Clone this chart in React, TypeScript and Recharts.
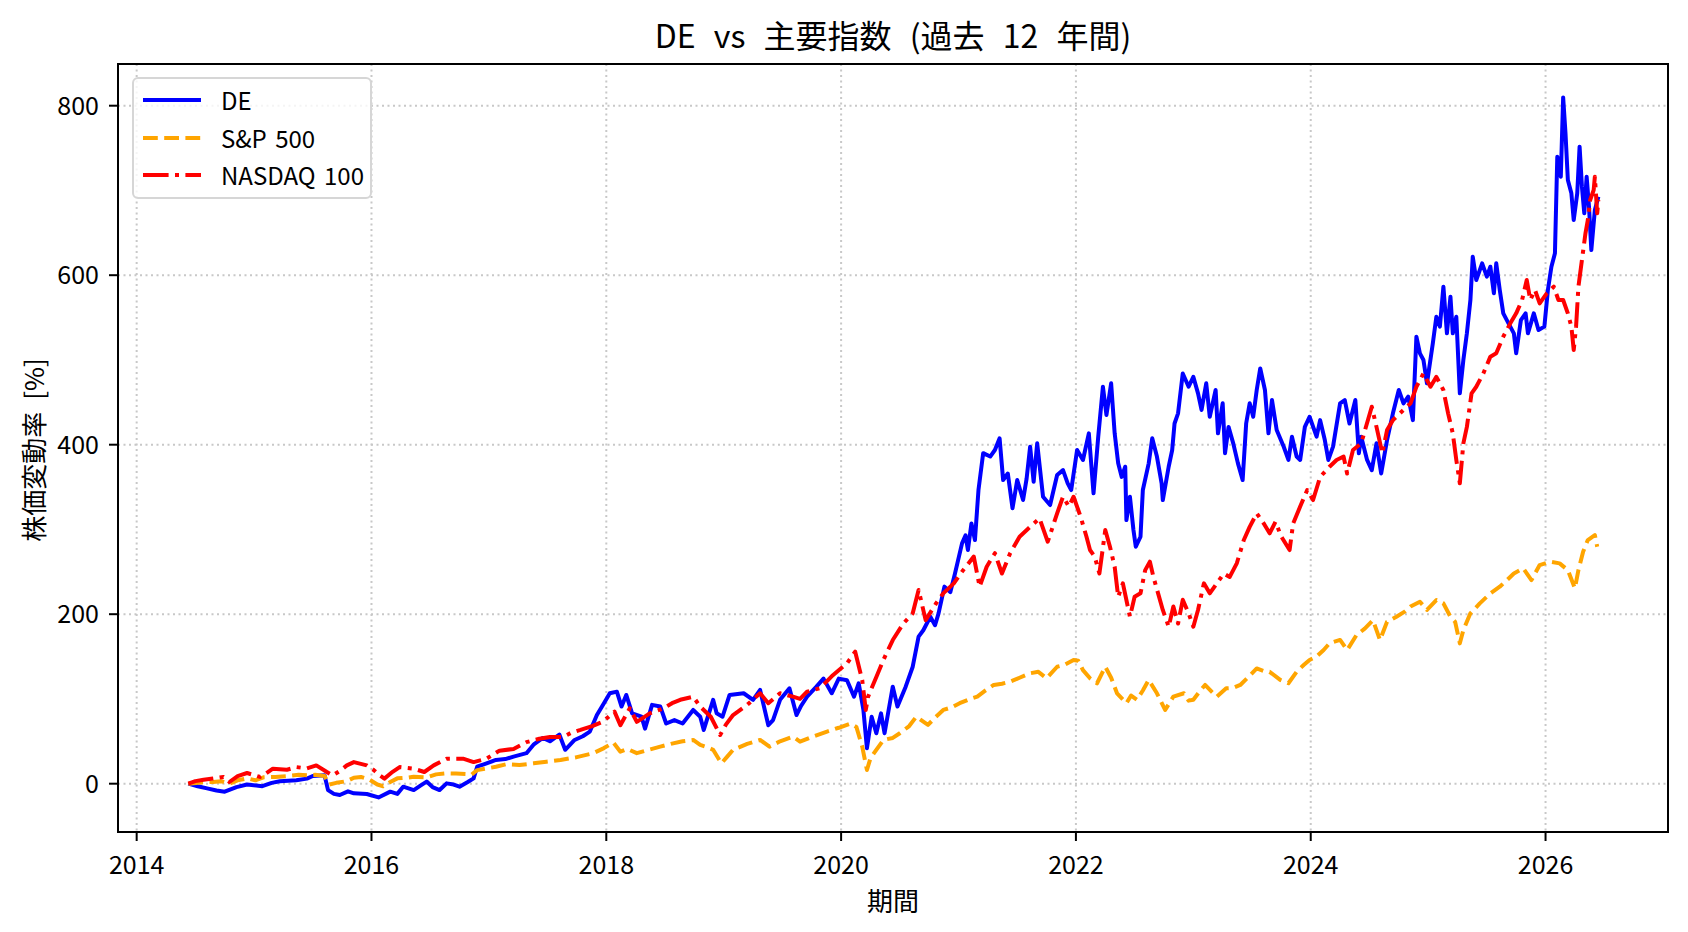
import React from 'react';
import { LineChart, Line, XAxis, YAxis, CartesianGrid } from 'recharts';

// [decimal year, % change]
const DE_POINTS: [number, number][] = [
  [2014.44, 0], [2014.52, -3], [2014.6, -5.5], [2014.68, -8], [2014.75, -9.4], [2014.85, -4], [2014.94, -1],
  [2015.07, -3], [2015.15, 1], [2015.22, 2.9], [2015.36, 4], [2015.45, 6], [2015.5, 9.1], [2015.6, 10],
  [2015.63, -7.6], [2015.68, -12], [2015.73, -13.4], [2015.8, -9], [2015.85, -11.4], [2015.96, -12.2],
  [2016.06, -16.2], [2016.16, -9.4], [2016.22, -12], [2016.27, -3.5], [2016.36, -7.5], [2016.42, -2],
  [2016.47, 2.5], [2016.52, -4], [2016.58, -7.5], [2016.64, 0.4], [2016.7, -1], [2016.75, -3.5],
  [2016.82, 2], [2016.87, 6.3], [2016.9, 20], [2016.98, 24], [2017.06, 28], [2017.14, 29], [2017.21, 32],
  [2017.32, 36], [2017.38, 46], [2017.46, 54], [2017.52, 50], [2017.6, 58], [2017.65, 40], [2017.73, 51.6],
  [2017.8, 56], [2017.86, 61.5], [2017.92, 81], [2017.98, 95], [2018.03, 106.7], [2018.09, 108.6],
  [2018.13, 91], [2018.17, 104.7], [2018.22, 83], [2018.3, 79], [2018.33, 65], [2018.39, 93], [2018.46, 91],
  [2018.51, 71], [2018.58, 75], [2018.65, 71], [2018.74, 87], [2018.8, 79], [2018.83, 63.4], [2018.91, 99],
  [2018.94, 83], [2018.99, 79], [2019.05, 104.7], [2019.17, 106.7], [2019.25, 99], [2019.31, 110.6],
  [2019.38, 69], [2019.42, 75], [2019.48, 99], [2019.56, 112.6], [2019.62, 81], [2019.66, 92],
  [2019.71, 102.7], [2019.79, 114.5], [2019.85, 124], [2019.92, 106.7], [2019.98, 124], [2020.05, 122],
  [2020.11, 102.7], [2020.15, 118.5], [2020.19, 87], [2020.22, 41.8], [2020.26, 79], [2020.3, 59.5],
  [2020.34, 83], [2020.37, 59.5], [2020.44, 114.5], [2020.48, 91], [2020.55, 114.5], [2020.61, 138],
  [2020.66, 173.5], [2020.7, 181], [2020.76, 197], [2020.8, 187], [2020.83, 201], [2020.88, 232.5],
  [2020.93, 226], [2020.97, 248], [2021.03, 283.6], [2021.06, 293], [2021.08, 275.7], [2021.11, 307],
  [2021.14, 287.5], [2021.17, 346.5], [2021.21, 390], [2021.27, 386], [2021.31, 393.7], [2021.35, 407.5],
  [2021.38, 358.3], [2021.42, 366], [2021.46, 325], [2021.5, 358.3], [2021.55, 334.7], [2021.58, 360],
  [2021.61, 397.6], [2021.64, 356.3], [2021.67, 401.6], [2021.72, 338.6], [2021.78, 328.8], [2021.84, 364.2],
  [2021.89, 370], [2021.93, 354.4], [2021.96, 346.5], [2022.01, 393.7], [2022.06, 382], [2022.11, 413.4],
  [2022.15, 342.6], [2022.19, 409.4], [2022.23, 468.4], [2022.26, 435], [2022.3, 472.4], [2022.33, 413.4],
  [2022.36, 378], [2022.39, 362], [2022.42, 374], [2022.43, 311], [2022.46, 338.6], [2022.49, 299.3],
  [2022.51, 279.6], [2022.55, 291.4], [2022.57, 346.5], [2022.62, 378], [2022.65, 407.5], [2022.69, 386],
  [2022.73, 354.4], [2022.74, 334.7], [2022.79, 374], [2022.82, 393.7], [2022.84, 425], [2022.87, 437],
  [2022.91, 484], [2022.96, 468.4], [2023.0, 480.2], [2023.04, 460.6], [2023.07, 441], [2023.11, 472.4],
  [2023.14, 433], [2023.19, 464.5], [2023.21, 413.4], [2023.25, 448.8], [2023.27, 390], [2023.3, 421],
  [2023.34, 401.6], [2023.38, 378], [2023.42, 358.3], [2023.45, 425], [2023.48, 448.8], [2023.51, 433],
  [2023.54, 464.5], [2023.57, 490], [2023.61, 464.5], [2023.64, 413.4], [2023.67, 452.7], [2023.71, 417.3],
  [2023.77, 397.6], [2023.81, 382], [2023.84, 409.4], [2023.88, 386], [2023.91, 382], [2023.95, 421],
  [2023.99, 433], [2024.05, 409.5], [2024.08, 429], [2024.12, 405.5], [2024.15, 382], [2024.19, 397.7],
  [2024.25, 448.8], [2024.29, 452.7], [2024.33, 425], [2024.38, 452.7], [2024.41, 389.8], [2024.43, 409.5],
  [2024.48, 382], [2024.52, 370], [2024.56, 401.6], [2024.6, 366], [2024.65, 405.5], [2024.7, 437],
  [2024.75, 464.5], [2024.79, 448.8], [2024.83, 456.7], [2024.87, 429], [2024.9, 527.5], [2024.93, 507.8],
  [2024.96, 500], [2024.99, 472.4], [2025.04, 519.6], [2025.07, 551], [2025.1, 539.3], [2025.13, 586.4],
  [2025.16, 531.4], [2025.19, 574.6], [2025.21, 531.4], [2025.24, 551], [2025.27, 460.6], [2025.3, 500],
  [2025.33, 531.4], [2025.36, 570.7], [2025.38, 621.8], [2025.41, 594.3], [2025.46, 614], [2025.5, 598.3],
  [2025.53, 610], [2025.56, 578.6], [2025.58, 614], [2025.61, 582.5], [2025.64, 555], [2025.67, 547],
  [2025.73, 531.4], [2025.75, 507.8], [2025.79, 547], [2025.83, 555], [2025.85, 531.4], [2025.9, 555],
  [2025.94, 535.3], [2025.99, 539.3], [2026.02, 582.5], [2026.05, 610], [2026.08, 625.8], [2026.1, 739.8],
  [2026.13, 716.2], [2026.15, 809.8], [2026.17, 767.4], [2026.19, 712.3], [2026.22, 696.6], [2026.24, 665],
  [2026.27, 696.6], [2026.29, 751.6], [2026.31, 704.4], [2026.33, 673], [2026.35, 716.2], [2026.37, 680.8],
  [2026.39, 629.7], [2026.42, 676.9], [2026.45, 692.6],
];

const SP500_POINTS: [number, number][] = [
  [2014.44, 0], [2014.55, 1.5], [2014.65, 2], [2014.72, 3], [2014.79, 0], [2014.86, 4], [2014.94, 6.3],
  [2015.01, 4], [2015.08, 7.5], [2015.18, 8], [2015.28, 9], [2015.38, 10.5], [2015.45, 10], [2015.52, 10.5],
  [2015.6, 9], [2015.64, -1], [2015.7, 1], [2015.79, 3], [2015.85, 7], [2015.91, 8], [2015.98, 5],
  [2016.05, -1], [2016.1, -3], [2016.16, 2], [2016.22, 6.3], [2016.3, 7], [2016.36, 8.3], [2016.47, 7.5],
  [2016.55, 11], [2016.64, 12.2], [2016.72, 12], [2016.81, 11.4], [2016.85, 10.5], [2016.9, 16],
  [2016.98, 18], [2017.06, 20], [2017.15, 23], [2017.26, 22], [2017.38, 24], [2017.49, 26], [2017.61, 28],
  [2017.74, 31], [2017.89, 36], [2017.98, 42], [2018.06, 48.5], [2018.12, 37.8], [2018.18, 41],
  [2018.26, 36], [2018.36, 40], [2018.46, 43.7], [2018.55, 47], [2018.65, 50], [2018.74, 51.6],
  [2018.8, 45.7], [2018.86, 43], [2018.91, 40], [2018.98, 24], [2019.03, 32], [2019.08, 40], [2019.2, 47],
  [2019.31, 51.6], [2019.39, 43.7], [2019.48, 50], [2019.59, 55.5], [2019.65, 49.6], [2019.75, 55],
  [2019.88, 61.5], [2019.98, 66], [2020.08, 71], [2020.13, 67], [2020.18, 43.7], [2020.22, 16.2],
  [2020.25, 30], [2020.28, 36], [2020.36, 51.6], [2020.44, 54], [2020.5, 59.5], [2020.58, 68],
  [2020.64, 79], [2020.74, 69.3], [2020.8, 78], [2020.87, 87], [2020.94, 90], [2021.01, 95], [2021.1, 100],
  [2021.16, 102.7], [2021.23, 110], [2021.3, 116.5], [2021.37, 118], [2021.44, 120.4], [2021.52, 125],
  [2021.61, 130.3], [2021.68, 132], [2021.75, 124.4], [2021.84, 138], [2021.9, 140], [2021.98, 146],
  [2022.02, 145], [2022.06, 134], [2022.12, 124.4], [2022.18, 118.5], [2022.25, 138], [2022.3, 125],
  [2022.35, 106.7], [2022.43, 95], [2022.47, 104], [2022.52, 99], [2022.57, 110], [2022.62, 122.4],
  [2022.69, 106.7], [2022.76, 87], [2022.8, 96], [2022.83, 102.7], [2022.92, 106.7], [2022.96, 98],
  [2023.0, 99], [2023.06, 110], [2023.1, 116.5], [2023.16, 108], [2023.2, 102.7], [2023.28, 112.6],
  [2023.34, 113], [2023.4, 116.5], [2023.47, 126], [2023.54, 136], [2023.6, 133], [2023.65, 132],
  [2023.74, 122.4], [2023.81, 118.5], [2023.88, 132], [2023.94, 140], [2023.99, 146], [2024.05, 150],
  [2024.11, 157.8], [2024.16, 165.6], [2024.25, 169.6], [2024.31, 157.7], [2024.39, 175.4], [2024.46, 183],
  [2024.53, 193], [2024.59, 169.5], [2024.65, 191], [2024.73, 197], [2024.8, 203], [2024.85, 209],
  [2024.93, 214.7], [2024.99, 205], [2025.07, 216.7], [2025.13, 212.8], [2025.19, 197], [2025.23, 191],
  [2025.27, 165.6], [2025.3, 181.3], [2025.36, 201], [2025.44, 212.8], [2025.53, 224.6], [2025.61, 232.4],
  [2025.67, 240], [2025.73, 248], [2025.81, 254], [2025.88, 240.3], [2025.95, 258], [2026.04, 262],
  [2026.12, 260], [2026.19, 252], [2026.25, 230.5], [2026.28, 252], [2026.32, 273.7], [2026.36, 287.5],
  [2026.42, 293.4], [2026.44, 279.6],
];

const NASDAQ_POINTS: [number, number][] = [
  [2014.44, 0], [2014.5, 3], [2014.57, 4.7], [2014.65, 6], [2014.74, 8], [2014.79, 2], [2014.86, 9],
  [2014.94, 12.6], [2015.05, 8], [2015.1, 12], [2015.16, 17.7], [2015.28, 16.5], [2015.36, 19.6],
  [2015.45, 18], [2015.53, 21.6], [2015.62, 13.8], [2015.67, 9.8], [2015.73, 15], [2015.79, 21.6],
  [2015.85, 25.5], [2015.96, 21.6], [2016.02, 16], [2016.07, 9.8], [2016.11, 6], [2016.18, 14],
  [2016.24, 19.6], [2016.36, 17.7], [2016.45, 13.8], [2016.53, 21.6], [2016.64, 29.5], [2016.78, 29.5],
  [2016.87, 25.5], [2016.98, 29.5], [2017.09, 39], [2017.21, 41], [2017.32, 49], [2017.43, 53],
  [2017.52, 55], [2017.63, 55], [2017.7, 60], [2017.78, 63.4], [2017.88, 68], [2017.97, 73], [2018.07, 85],
  [2018.12, 69], [2018.2, 89], [2018.26, 73], [2018.37, 83], [2018.49, 89], [2018.56, 95], [2018.63, 99],
  [2018.74, 102.7], [2018.8, 91], [2018.89, 79], [2018.97, 57.5], [2019.02, 70], [2019.08, 81],
  [2019.2, 93], [2019.31, 106.7], [2019.38, 95], [2019.48, 106.7], [2019.59, 102.7], [2019.65, 100],
  [2019.71, 108.6], [2019.82, 112.6], [2019.93, 128], [2020.05, 142], [2020.12, 155.8], [2020.18, 122],
  [2020.21, 87], [2020.23, 102.7], [2020.3, 126], [2020.36, 146], [2020.44, 169.5], [2020.53, 189],
  [2020.61, 201], [2020.66, 228.6], [2020.72, 193], [2020.81, 213], [2020.87, 224.6], [2020.96, 236.4],
  [2021.04, 252], [2021.13, 268], [2021.18, 232.5], [2021.24, 256], [2021.31, 272], [2021.37, 248],
  [2021.44, 272], [2021.52, 291.4], [2021.61, 303], [2021.69, 313], [2021.76, 285.5], [2021.84, 319],
  [2021.89, 338.6], [2021.94, 327], [2021.98, 338.6], [2022.04, 315], [2022.09, 291.4], [2022.12, 275.7],
  [2022.16, 268], [2022.2, 248], [2022.25, 299.3], [2022.29, 279.6], [2022.33, 256], [2022.36, 220.6],
  [2022.4, 236.4], [2022.46, 197], [2022.5, 220.6], [2022.55, 224.6], [2022.59, 252], [2022.63, 262],
  [2022.66, 244], [2022.7, 224.6], [2022.74, 205], [2022.79, 185.2], [2022.83, 209], [2022.87, 189],
  [2022.91, 217], [2022.96, 201], [2023.0, 185.2], [2023.04, 205], [2023.09, 236.4], [2023.14, 224.6],
  [2023.2, 236.4], [2023.26, 248], [2023.31, 244], [2023.37, 260], [2023.43, 287.5], [2023.48, 303],
  [2023.54, 319], [2023.6, 307], [2023.65, 295.4], [2023.7, 309], [2023.75, 291.4], [2023.82, 275.7],
  [2023.85, 307], [2023.91, 327], [2023.97, 346.5], [2024.02, 334.7], [2024.08, 362], [2024.16, 374],
  [2024.22, 382], [2024.28, 386], [2024.31, 366], [2024.36, 393.7], [2024.43, 401.6], [2024.52, 444.8],
  [2024.56, 421], [2024.61, 389.8], [2024.65, 417.3], [2024.7, 429], [2024.76, 437], [2024.85, 448.8],
  [2024.9, 468.4], [2024.96, 484], [2025.02, 468.4], [2025.07, 480], [2025.13, 464.5], [2025.17, 437],
  [2025.21, 413.4], [2025.24, 382], [2025.27, 354.4], [2025.3, 401.6], [2025.33, 421], [2025.37, 460.6],
  [2025.41, 468.4], [2025.47, 484], [2025.53, 503.9], [2025.58, 507.8], [2025.64, 527.5], [2025.7, 543.2],
  [2025.75, 555], [2025.8, 570.7], [2025.84, 594.3], [2025.87, 570.7], [2025.91, 582.5], [2025.95, 566.8],
  [2026.01, 578.6], [2026.07, 586.4], [2026.11, 570.7], [2026.15, 570.7], [2026.19, 555], [2026.22, 539.3],
  [2026.24, 511.7], [2026.26, 539.3], [2026.28, 586.4], [2026.31, 617.9], [2026.34, 649.4], [2026.36, 665],
  [2026.38, 688.7], [2026.41, 700.5], [2026.42, 716.2], [2026.44, 673], [2026.45, 688.7],
];

const X_TICKS = [2014, 2016, 2018, 2020, 2022, 2024, 2026];
const Y_TICKS = [0, 200, 400, 600, 800];
const X_DOMAIN: [number, number] = [2013.841, 2027.043];
const Y_DOMAIN: [number, number] = [-57, 849.2];

const TITLE = 'DE vs 主要指数 (過去 12 年間)';
const X_LABEL = '期間';
const Y_LABEL = '株価変動率 [%]';

const FONT = '"Noto Sans CJK JP", "Noto Sans", sans-serif';

const SERIES = [
  { name: 'DE', points: DE_POINTS, color: '#0000ff', dash: undefined as string | undefined },
  { name: 'S&P 500', points: SP500_POINTS, color: '#ffa500', dash: '14.8 6.4' },
  { name: 'NASDAQ 100', points: NASDAQ_POINTS, color: '#ff0000', dash: '25.6 6.4 4 6.4' },
];

const toRows = (pts: [number, number][]) => pts.map(([t, v]) => ({ t, v }));

const W = 1688;
const H = 932;
const PLOT_LEFT = 118;
const PLOT_RIGHT = 1668;
const PLOT_TOP = 64;
const PLOT_BOTTOM = 832;

export default function App() {
  const tickStyle = { fontFamily: FONT, fontSize: 25, fill: '#000' };
  return (
    <div style={{ position: 'fixed', left: 0, top: 0, width: W, height: H, background: '#fff', overflow: 'hidden' }}>
      <LineChart
        width={W}
        height={H}
        margin={{ top: PLOT_TOP, right: W - PLOT_RIGHT, left: 0, bottom: 0 }}
      >
        <CartesianGrid stroke="#c8c8c8" strokeWidth={2} strokeDasharray="2 3.5" />
        <XAxis
          dataKey="t"
          type="number"
          domain={X_DOMAIN}
          allowDataOverflow
          ticks={X_TICKS}
          height={H - PLOT_BOTTOM}
          axisLine={false}
          tickLine={{ stroke: '#000', strokeWidth: 2 }}
          tickSize={9}
          tickMargin={15}
          tick={tickStyle}
          interval={0}
        />
        <YAxis
          type="number"
          domain={Y_DOMAIN}
          allowDataOverflow
          ticks={Y_TICKS}
          width={PLOT_LEFT}
          axisLine={false}
          tickLine={{ stroke: '#000', strokeWidth: 2 }}
          tickSize={9}
          tickMargin={10}
          tick={tickStyle}
          interval={0}
        />
        {SERIES.map((s) => (
          <Line
            key={s.name}
            data={toRows(s.points)}
            dataKey="v"
            name={s.name}
            type="linear"
            stroke={s.color}
            strokeWidth={4}
            strokeDasharray={s.dash}
            strokeLinejoin="round"
            dot={false}
            activeDot={false}
            isAnimationActive={false}
          />
        ))}
      </LineChart>

      {/* axes frame */}
      <div
        style={{
          position: 'absolute',
          left: PLOT_LEFT - 1,
          top: PLOT_TOP - 1,
          width: PLOT_RIGHT - PLOT_LEFT + 2,
          height: PLOT_BOTTOM - PLOT_TOP + 2,
          border: '2px solid #000',
          boxSizing: 'border-box',
          pointerEvents: 'none',
        }}
      />

      {/* title */}
      <div
        style={{
          position: 'absolute',
          left: PLOT_LEFT,
          width: PLOT_RIGHT - PLOT_LEFT,
          top: 14,
          height: 40,
          lineHeight: '40px',
          textAlign: 'center',
          fontFamily: FONT,
          fontSize: 32,
          wordSpacing: 11,
          color: '#000',
          whiteSpace: 'nowrap',
        }}
      >
        {TITLE}
      </div>

      {/* x label */}
      <div
        style={{
          position: 'absolute',
          left: (PLOT_LEFT + PLOT_RIGHT) / 2,
          top: 899,
          transform: 'translate(-50%, -50%)',
          fontFamily: FONT,
          fontSize: 26,
          color: '#000',
          whiteSpace: 'nowrap',
        }}
      >
        {X_LABEL}
      </div>

      {/* y label */}
      <div
        style={{
          position: 'absolute',
          left: 32,
          top: (PLOT_TOP + PLOT_BOTTOM) / 2 + 2,
          transform: 'translate(-50%, -50%) rotate(-90deg)',
          fontFamily: FONT,
          fontSize: 26,
          wordSpacing: 6,
          color: '#000',
          whiteSpace: 'nowrap',
        }}
      >
        {Y_LABEL}
      </div>

      {/* legend */}
      <div
        style={{
          position: 'absolute',
          left: 132,
          top: 77,
          width: 240,
          height: 122,
          border: '2px solid #d6d6d6',
          borderRadius: 6,
          background: 'rgba(255,255,255,0.8)',
          boxSizing: 'border-box',
        }}
      >
        {SERIES.map((s, i) => {
          const cy = 21 + i * 37.7;
          return (
            <div key={s.name} style={{ position: 'absolute', left: 0, top: cy - 16, height: 32, width: 236 }}>
              <svg width={70} height={32} style={{ position: 'absolute', left: 0, top: 0 }}>
                <line x1={9} y1={16} x2={67} y2={16} stroke={s.color} strokeWidth={4} strokeDasharray={s.dash} />
              </svg>
              <span
                style={{
                  position: 'absolute',
                  left: 87,
                  top: 0,
                  lineHeight: '32px',
                  fontFamily: FONT,
                  fontSize: 24,
                  wordSpacing: 3,
                  color: '#000',
                  whiteSpace: 'nowrap',
                }}
              >
                {s.name}
              </span>
            </div>
          );
        })}
      </div>
    </div>
  );
}
